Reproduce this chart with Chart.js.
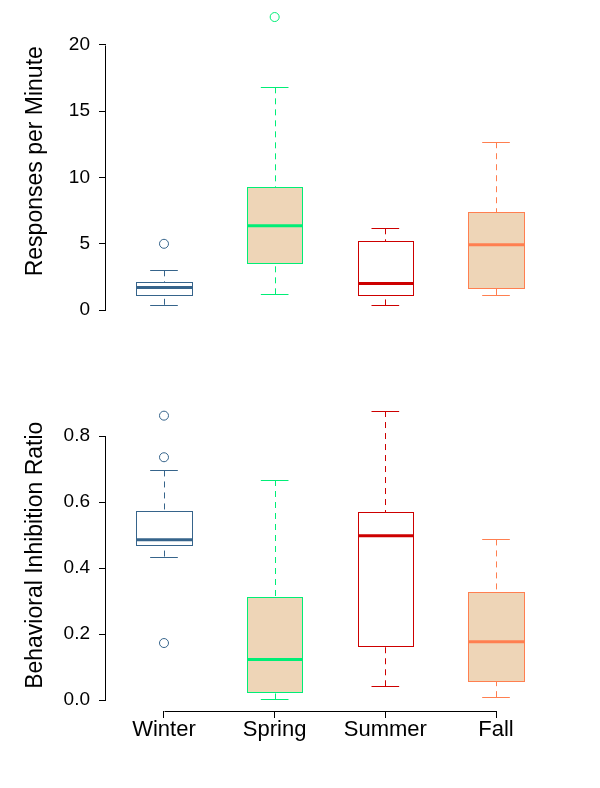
<!DOCTYPE html>
<html><head><meta charset="utf-8">
<script src="https://cdn.jsdelivr.net/npm/chart.js@4.4.1/dist/chart.umd.min.js"></script>
<style>
html,body{margin:0;padding:0;background:#fff;}
#wrap{position:relative;width:600px;height:788px;background:#fff;}
canvas{position:absolute;left:0;}
</style></head><body>
<div id="wrap">
<canvas id="c1" width="600" height="394" style="top:0px"></canvas>
<canvas id="c2" width="600" height="394" style="top:394px"></canvas>
</div>
<script>
// ---- data ----
const seasons = ['Winter', 'Spring', 'Summer', 'Fall'];

// Responses per Minute
const rpmLowWhisker  = [0.40, 1.19, 0.35, 1.14];
const rpmQ1          = [1.17, 3.53, 1.12, 1.69];
const rpmMedian      = [1.70, 6.37, 2.01, 4.93];
const rpmQ3          = [2.10, 9.25, 5.20, 7.39];
const rpmHighWhisker = [3.00, 16.80, 6.17, 12.66];
const rpmOutliers    = [[5.0], [22.1], [], []];
const rpmTicks       = [0, 5, 10, 15, 20];

// Behavioral Inhibition Ratio
const birLowWhisker  = [0.435, 0.002, 0.042, 0.009];
const birQ1          = [0.469, 0.024, 0.165, 0.057];
const birMedian      = [0.486, 0.123, 0.498, 0.177];
const birQ3          = [0.572, 0.312, 0.569, 0.328];
const birHighWhisker = [0.696, 0.667, 0.876, 0.487];
const birOutliers    = [[0.862, 0.736, 0.173], [], [], []];
const birTicks       = [0, 0.2, 0.4, 0.6, 0.8];

// ---- styles ----
const lineColors = ['#36648B', '#00EE76', '#CD0000', '#FF7F50'];
const fillColors = ['#FFFFFF', '#EED5B7', '#FFFFFF', '#EED5B7'];
const FONT = "'Liberation Sans', Arial, Helvetica, sans-serif";

function rRange(st) {
  const all = [].concat(st.lo, st.hi, ...st.out);
  const mn = Math.min(...all), mx = Math.max(...all);
  const ext = (mx - mn) * 0.04;
  return [mn - ext, mx + ext];
}

function boxPlugin(st, showX) {
  return {
    id: 'boxes',
    beforeDatasetsDraw(chart) {
      const xs = chart.scales.x, ys = chart.scales.y, ctx = chart.ctx;
      ctx.save();
      for (let i = 0; i < seasons.length; i++) {
        const c = i + 1;
        const xc = Math.round(xs.getPixelForValue(c)) + 0.5;
        const xl = Math.round(xs.getPixelForValue(c - 0.25)) + 0.5;
        const xr = Math.round(xs.getPixelForValue(c + 0.25)) + 0.5;
        const cl = xs.getPixelForValue(c - 0.125);
        const cr = xs.getPixelForValue(c + 0.125);
        const yLo = ys.getPixelForValue(st.lo[i]);
        const yQ1 = ys.getPixelForValue(st.q1[i]);
        const yMd = ys.getPixelForValue(st.med[i]);
        const yQ3 = ys.getPixelForValue(st.q3[i]);
        const yHi = ys.getPixelForValue(st.hi[i]);
        ctx.strokeStyle = lineColors[i];
        ctx.lineWidth = 1;
        // whiskers (dashed)
        ctx.setLineDash([6, 5]);
        ctx.beginPath();
        ctx.moveTo(xc, yHi); ctx.lineTo(xc, yQ3);
        ctx.moveTo(xc, yLo); ctx.lineTo(xc, yQ1);
        ctx.stroke();
        ctx.setLineDash([]);
        // caps
        ctx.beginPath();
        ctx.moveTo(cl, Math.round(yHi) + 0.5); ctx.lineTo(cr, Math.round(yHi) + 0.5);
        ctx.moveTo(cl, Math.round(yLo) + 0.5); ctx.lineTo(cr, Math.round(yLo) + 0.5);
        ctx.stroke();
        // box
        const bt = Math.round(yQ3) + 0.5, bb = Math.round(yQ1) + 0.5;
        ctx.fillStyle = fillColors[i];
        ctx.fillRect(xl, bt, xr - xl, bb - bt);
        ctx.strokeRect(xl, bt, xr - xl, bb - bt);
        // median
        ctx.lineWidth = 3;
        ctx.beginPath();
        ctx.moveTo(xl - 0.5, yMd); ctx.lineTo(xr + 0.5, yMd);
        ctx.stroke();
      }
      ctx.restore();
    },
    afterDraw(chart) {
      const xs = chart.scales.x, ys = chart.scales.y, ctx = chart.ctx;
      ctx.save();
      ctx.strokeStyle = '#000';
      ctx.lineWidth = 1;
      ctx.beginPath();
      const ax = chart.chartArea.left - 0.5;
      ctx.moveTo(ax, Math.round(ys.getPixelForValue(st.ticks[0])) + 0.5);
      ctx.lineTo(ax, Math.round(ys.getPixelForValue(st.ticks[st.ticks.length - 1])) + 0.5);
      if (showX) {
        const ay = chart.chartArea.bottom + 0.5;
        ctx.moveTo(Math.round(xs.getPixelForValue(1)) + 0.5, ay);
        ctx.lineTo(Math.round(xs.getPixelForValue(seasons.length)) + 0.5, ay);
      }
      ctx.stroke();
      ctx.restore();
    }
  };
}

function makeChart(id, st, title, showX, fmt) {
  const [yMin, yMax] = rRange(st);
  const pts = [], cols = [];
  st.out.forEach((arr, i) => arr.forEach(v => { pts.push({x: i + 1, y: v}); cols.push(lineColors[i]); }));
  return new Chart(document.getElementById(id), {
    type: 'scatter',
    data: { datasets: [{
      data: pts,
      pointRadius: 4.5,
      pointHoverRadius: 4.5,
      pointBorderWidth: 1,
      pointBorderColor: cols,
      pointBackgroundColor: 'rgba(0,0,0,0)',
      clip: false
    }]},
    options: {
      responsive: false,
      animation: false,
      devicePixelRatio: 1,
      events: [],
      layout: { padding: { top: 2, right: 46, left: 0, bottom: showX ? 0 : 77 } },
      plugins: { legend: { display: false }, tooltip: { enabled: false } },
      scales: {
        x: {
          type: 'linear', min: 0.476, max: 4.524,
          display: showX,
          afterBuildTicks: s => { s.ticks = seasons.map((_, i) => ({ value: i + 1 })); },
          afterFit: s => {
            s.height = showX ? 77 : 0;
            s.paddingLeft = 0; s.paddingRight = 0; s.paddingTop = 0; s.paddingBottom = 0;
          },
          border: { display: false },
          grid: { drawOnChartArea: false, tickLength: 7, color: '#000', lineWidth: 1 },
          ticks: {
            autoSkip: false, maxRotation: 0, padding: 1, color: '#000',
            font: { family: FONT, size: 22, lineHeight: 1 },
            callback: v => seasons[Math.round(v) - 1]
          }
        },
        y: {
          type: 'linear', min: yMin, max: yMax,
          afterBuildTicks: s => { s.ticks = st.ticks.map(v => ({ value: v })); },
          afterFit: s => {
            s.width = 106;
            s.paddingLeft = 0; s.paddingRight = 0; s.paddingTop = 0; s.paddingBottom = 0;
          },
          border: { display: false },
          grid: { drawOnChartArea: false, tickLength: 7, color: '#000', lineWidth: 1 },
          ticks: {
            padding: 9, color: '#000',
            font: { family: FONT, size: 19 },
            callback: fmt
          },
          title: {
            display: true, text: title, color: '#000',
            font: { family: FONT, size: 23 },
            padding: { top: 22, bottom: 0 }
          }
        }
      }
    },
    plugins: [boxPlugin(st, showX)]
  });
}

makeChart('c1', {
  lo: rpmLowWhisker, q1: rpmQ1, med: rpmMedian, q3: rpmQ3, hi: rpmHighWhisker,
  out: rpmOutliers, ticks: rpmTicks
}, 'Responses per Minute', false, v => String(v));

makeChart('c2', {
  lo: birLowWhisker, q1: birQ1, med: birMedian, q3: birQ3, hi: birHighWhisker,
  out: birOutliers, ticks: birTicks
}, 'Behavioral Inhibition Ratio', true, v => v.toFixed(1));
</script>
</body></html>
